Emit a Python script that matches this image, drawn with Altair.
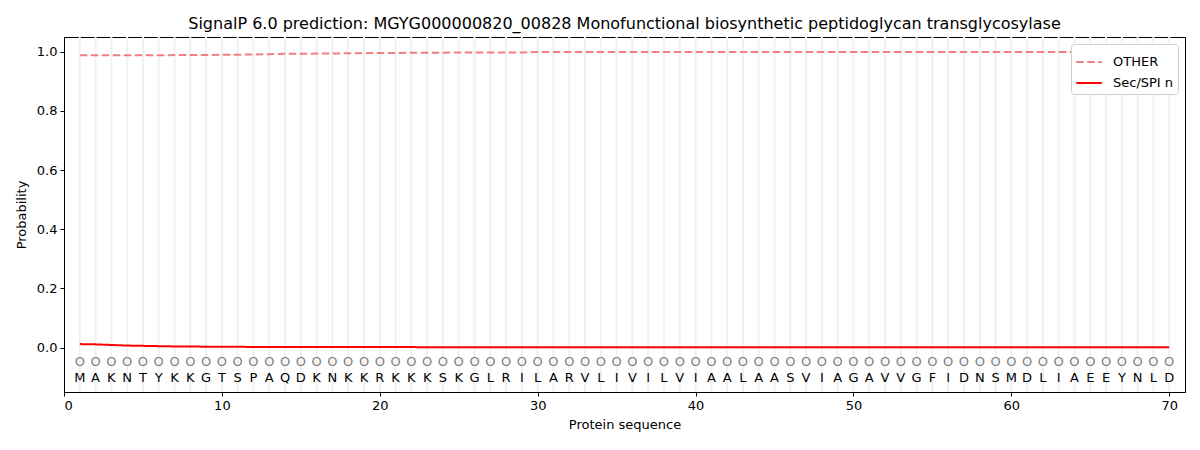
import altair as alt
import pandas as pd

sequence = list("MAKNTYKKGTSPAQDKNKKRKKKSKGLRILARVLIVILVIAALAASVIAGAVVGFIDNSMDLIAEEYNLD")
positions = list(range(1, 71))
region_labels = ["O"] * 70

other_prob = [
    0.988, 0.988, 0.988, 0.988, 0.988, 0.988, 0.989, 0.989, 0.989, 0.990,
    0.990, 0.991, 0.992, 0.993, 0.993, 0.994, 0.994, 0.995, 0.995, 0.996,
    0.996, 0.997, 0.997, 0.997, 0.998, 0.998, 0.998, 0.998, 0.998, 0.999,
    0.999, 0.999, 0.999, 0.999, 0.999, 0.999, 0.999, 0.999, 0.999, 0.999,
    0.999, 0.999, 0.999, 0.999, 0.999, 0.999, 0.999, 0.999, 0.999, 0.999,
    0.999, 0.999, 0.999, 0.999, 0.999, 0.999, 0.999, 0.999, 0.999, 0.999,
    0.999, 0.999, 0.999, 0.999, 0.999, 0.999, 0.999, 0.999, 0.999, 0.999,
]
sec_spi_n = [
    0.012, 0.011, 0.009, 0.007, 0.006, 0.005, 0.004, 0.004, 0.003, 0.003,
    0.003, 0.002, 0.002, 0.002, 0.002, 0.002, 0.002, 0.002, 0.002, 0.002,
    0.002, 0.002, 0.001, 0.001, 0.001, 0.001, 0.001, 0.001, 0.001, 0.001,
    0.001, 0.001, 0.001, 0.001, 0.001, 0.001, 0.001, 0.001, 0.001, 0.001,
    0.001, 0.001, 0.001, 0.001, 0.001, 0.001, 0.001, 0.001, 0.001, 0.001,
    0.001, 0.001, 0.001, 0.001, 0.001, 0.001, 0.001, 0.001, 0.001, 0.001,
    0.001, 0.001, 0.001, 0.001, 0.001, 0.001, 0.001, 0.001, 0.001, 0.001,
]
series_names = ["OTHER", "Sec/SPI n"]
series_colors = ["#f08080", "#ff0000"]

FONT = "DejaVu Sans"

lines_df = pd.DataFrame({
    "pos": positions * 2,
    "prob": other_prob + sec_spi_n,
    "series": [series_names[0]] * 70 + [series_names[1]] * 70,
})
seq_df = pd.DataFrame({
    "pos": positions,
    "aa": sequence,
    "region": region_labels,
    "y_region": [-0.048] * 70,
    "y_aa": [-0.102] * 70,
})

xscale = alt.Scale(domain=[0, 71], nice=False, zero=False)
yscale = alt.Scale(domain=[-0.15, 1.05], nice=False, zero=False)

xaxis = alt.Axis(values=[0, 10, 20, 30, 40, 50, 60, 70], grid=False, title="Protein sequence",
                 labelFont=FONT, titleFont=FONT, labelFontSize=13, titleFontSize=13,
                 titleFontWeight="normal", labelColor="black", titleColor="black",
                 domainColor="black", tickColor="black", tickSize=4, labelPadding=3, titlePadding=6)
yaxis = alt.Axis(values=[0, 0.2, 0.4, 0.6, 0.8, 1.0], format=".1f", grid=False, title="Probability",
                 labelFont=FONT, titleFont=FONT, labelFontSize=13, titleFontSize=13,
                 titleFontWeight="normal", labelColor="black", titleColor="black",
                 domainColor="black", tickColor="black", tickSize=4, labelPadding=3, titlePadding=8)

grid = alt.Chart(seq_df).mark_rule(color="#f1f1f1", strokeWidth=2).encode(
    x=alt.X("pos:Q", scale=xscale, axis=xaxis)
)

lines = alt.Chart(lines_df).mark_line(strokeWidth=2).encode(
    x=alt.X("pos:Q", scale=xscale, axis=xaxis),
    y=alt.Y("prob:Q", scale=yscale, axis=yaxis),
    color=alt.Color("series:N", scale=alt.Scale(domain=series_names, range=series_colors),
                    legend=alt.Legend(title=None, orient="top-right", offset=7,
                                      symbolType="stroke", symbolStrokeWidth=2, symbolSize=650,
                                      labelFont=FONT, labelFontSize=13, labelColor="black",
                                      fillColor="white", strokeColor="#d0d0d0", padding=4,
                                      cornerRadius=3, rowPadding=-4, labelOffset=10)),
    strokeDash=alt.StrokeDash("series:N", scale=alt.Scale(domain=series_names, range=[[7.5, 3.5], [1, 0]]),
                              legend=None),
)

region_text = alt.Chart(seq_df).mark_text(font=FONT, fontSize=13, color="#808080", baseline="middle").encode(
    x=alt.X("pos:Q", scale=xscale),
    y=alt.Y("y_region:Q", scale=yscale),
    text="region:N",
)
aa_text = alt.Chart(seq_df).mark_text(font=FONT, fontSize=13, color="black", baseline="middle").encode(
    x=alt.X("pos:Q", scale=xscale),
    y=alt.Y("y_aa:Q", scale=yscale),
    text="aa:N",
)

chart = alt.layer(grid, lines, region_text, aa_text).properties(
    width=1121, height=355,
    title=alt.TitleParams("SignalP 6.0 prediction: MGYG000000820_00828 Monofunctional biosynthetic peptidoglycan transglycosylase",
                          font=FONT, fontSize=16, fontWeight="normal", color="black", anchor="middle", offset=4),
    autosize=alt.AutoSizeParams(type="none"),
    padding={"left": 56, "top": 29, "right": 7, "bottom": 50},
).configure_view(stroke="black", strokeWidth=1)

chart.save("out.html", embed_options={"renderer": "svg", "actions": False})
